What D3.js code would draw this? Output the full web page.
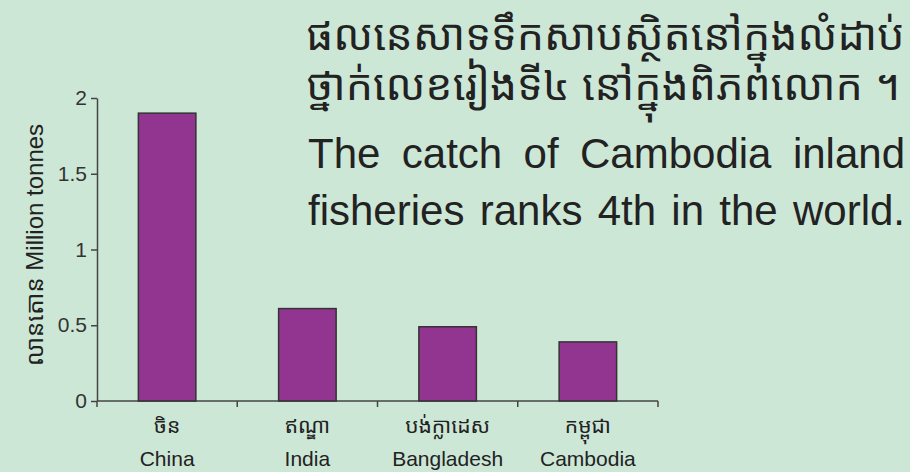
<!doctype html>
<html lang="km">
<head>
  <meta charset="utf-8">
  <title>Inland fisheries catch</title>
  <script src="https://cdnjs.cloudflare.com/ajax/libs/d3/7.8.5/d3.min.js"></script>
  <style>
    body{
      margin:0;
      background:#cde7d6;
    }
    svg text{
      font-family:"Liberation Sans", Arial, "Noto Sans Khmer", "Khmer OS", sans-serif;
      fill:#222;
    }
    .ten{
      font-family:"Liberation Sans Narrow", "Arial Narrow", "Liberation Sans", sans-serif !important;
    }
    .axis path, .axis line{
      stroke:#444;
      stroke-width:1.5;
    }
  </style>
</head>
<body>
  <svg width="910" height="472"></svg>
  <script>
    // data
    const countries = ["China", "India", "Bangladesh", "Cambodia"];
    const countriesKm = ["ចិន", "ឥណ្ឌា", "បង់ក្លាដេស", "កម្ពុជា"];
    const catchMt = [1.9, 0.61, 0.49, 0.39];
    const yTicks = [0, 0.5, 1, 1.5, 2];
    const titleKm = ["ផលនេសាទទឹកសាបស្ថិតនៅក្នុងលំដាប់", "ថ្នាក់លេខរៀងទី៤ នៅក្នុងពិភពលោក ។"];
    const titleEn = ["The catch of Cambodia inland", "fisheries ranks 4th in the world."];

    const svg = d3.select("svg");

    const plotL = 97, plotR = 658, plotT = 98, plotB = 401;

    const x = d3.scaleBand()
      .domain(countries)
      .range([plotL, plotR]);

    const y = d3.scaleLinear()
      .domain([0, 2])
      .range([plotB, plotT]);

    // y axis
    const yAxis = svg.append("g")
      .attr("class", "axis")
      .attr("transform", `translate(${plotL},0)`)
      .call(d3.axisLeft(y).tickValues(yTicks).tickSize(6).tickSizeOuter(0).tickFormat(d3.format("")));
    yAxis.selectAll("text")
      .attr("x", -10)
      .style("font-size", "21px")
      .style("fill", "#333");

    // x axis: ticks on category boundaries
    const xAxis = svg.append("g")
      .attr("class", "axis")
      .attr("transform", `translate(0,${plotB})`);
    xAxis.append("line")
      .attr("x1", plotL).attr("x2", plotR)
      .attr("y1", 0).attr("y2", 0);
    xAxis.selectAll(".bt")
      .data(countries.concat(["end"]))
      .enter()
      .append("line")
      .attr("class", "bt")
      .attr("x1", (d, i) => i < countries.length ? x(d) : plotR)
      .attr("x2", (d, i) => i < countries.length ? x(d) : plotR)
      .attr("y1", 0).attr("y2", 6);

    // bars
    const barW = x.bandwidth() * 0.41;
    svg.append("g")
      .selectAll("rect")
      .data(catchMt)
      .enter()
      .append("rect")
      .attr("x", (d, i) => x(countries[i]) + (x.bandwidth() - barW) / 2)
      .attr("y", d => y(d))
      .attr("width", barW)
      .attr("height", d => y(0) - y(d))
      .style("fill", "#913591")
      .style("stroke", "#333")
      .style("stroke-width", 1.5);

    // category labels
    svg.append("g")
      .selectAll("text")
      .data(countriesKm)
      .enter()
      .append("text")
      .attr("x", (d, i) => x(countries[i]) + x.bandwidth() / 2)
      .attr("y", 433)
      .attr("text-anchor", "middle")
      .style("font-size", "21px")
      .text(d => d);
    svg.append("g")
      .selectAll("text")
      .data(countries)
      .enter()
      .append("text")
      .attr("x", d => x(d) + x.bandwidth() / 2)
      .attr("y", 466)
      .attr("text-anchor", "middle")
      .style("font-size", "21px")
      .text(d => d);

    // y title
    svg.append("text")
      .attr("transform", "translate(43,245) rotate(-90)")
      .attr("text-anchor", "middle")
      .style("font-size", "24px")
      .text("លានតោន  Million tonnes");

    // heading
    svg.selectAll(".tkm")
      .data(titleKm)
      .enter()
      .append("text")
      .attr("class", "tkm")
      .attr("x", 306)
      .attr("y", (d, i) => 50 + i * 50)
      .style("font-size", "43px")
      .text(d => d);

    svg.selectAll(".ten")
      .data(titleEn)
      .enter()
      .append("text")
      .attr("class", "ten")
      .attr("x", 308)
      .attr("y", (d, i) => 168 + i * 57)
      .style("font-size", "42px")
      .text(d => d)
      .each(function(d) {
        // stretch word gaps so each line spans the same width
        const el = d3.select(this);
        const gaps = d.split(" ").length - 1;
        const extra = (597 - this.getComputedTextLength()) / gaps;
        if (extra > 0) el.style("word-spacing", extra + "px");
      });
  </script>
</body>
</html>
